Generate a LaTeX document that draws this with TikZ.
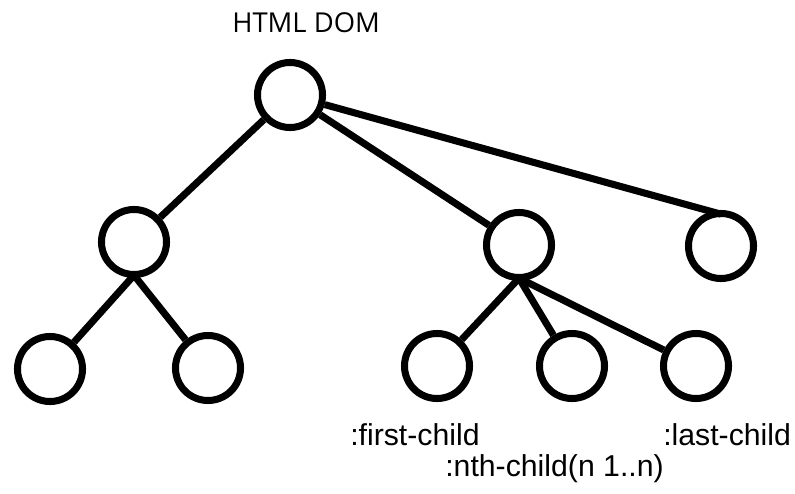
\documentclass[tikz,border=0pt]{standalone}
\usepackage{fontspec}
\setmainfont{Liberation Sans}
\newfontfamily\domfont{Open Sans}
\begin{document}
\begin{tikzpicture}[x=0.025cm, y=-0.025cm,
        dom/.style={circle, draw, line width=5pt, minimum size=1.625cm, inner sep=0pt},
        edge/.style={line width=5pt},
        sel/.style={anchor=base west, inner sep=0pt, font=\fontsize{21.5}{24}\selectfont}]
    \useasboundingbox (0,0) rectangle (795,493);
    % title
    \node [anchor=base west, inner sep=0pt, font=\domfont\fontsize{19.5}{22}\selectfont] (title) at (232, 32) {HTML DOM};
    % tree nodes
    \node [dom] (root) at (290, 95) {};
    \node [dom] (lc) at (134, 242) {};
    \node [dom] (mc) at (519, 245) {};
    \node [dom] (rc) at (721, 246) {};
    \node [dom] (ll) at (50, 369) {};
    \node [dom] (lr) at (208, 368) {};
    \node [dom] (first) at (437, 366) {};
    \node [dom] (nth) at (572, 366) {};
    \node [dom] (last) at (696, 366) {};
    % connectors
    \draw [edge] (root) -- (lc);
    \draw [edge] (root) -- (mc);
    \draw [edge] (root) -- ([yshift=-3pt]rc.north);
    \foreach \c in {ll, lr}{
            \draw [edge] ([yshift=2pt]lc.south) -- (\c);
        }
    \foreach \c in {first, nth, last}{
            \draw [edge] ([yshift=2pt]mc.south) -- (\c);
        }
    % selector labels
    \node [sel] (firstlbl) at (350, 445) {:first-child};
    \node [sel] (lastlbl) at (663, 445) {:last-child};
    \node [sel] (nthlbl) at (445, 476) {:nth-child(n 1..n)};
\end{tikzpicture}
\end{document}
